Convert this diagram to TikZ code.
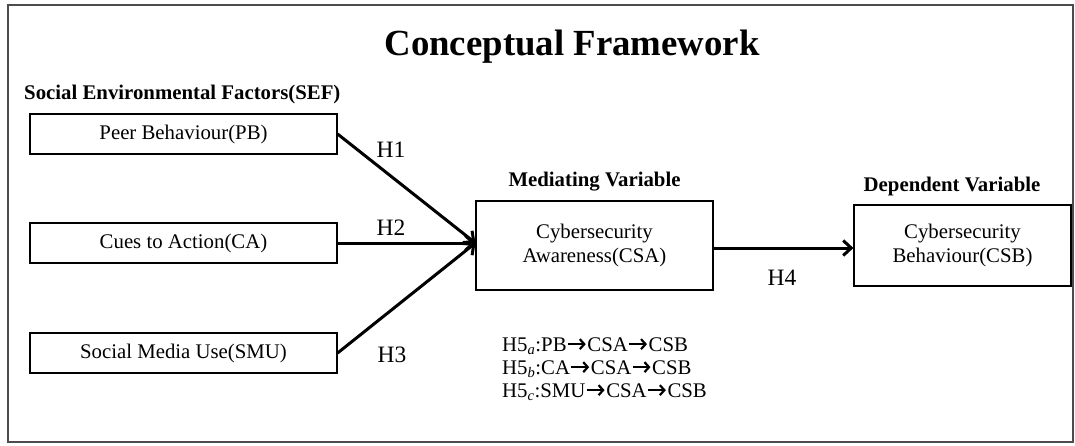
\documentclass[tikz,border=0pt]{standalone}
\usepackage{fontspec}
\setmainfont{Liberation Serif}
\usetikzlibrary{arrows.meta}
\newcommand{\myarr}{\tikz[baseline=0pt]{\useasboundingbox (0,0) rectangle (1em,0.6em);\draw[line width=2.2pt,-{Straight Barb[length=4.5pt,width=10pt]}] (0.06em,0.33em) -- (0.92em,0.33em);}}
\tikzset{
  box/.style={draw, line width=1.2pt, inner sep=0pt, align=center, font=\fontsize{20.8}{24}\selectfont},
  lbl/.style={inner sep=0pt, font=\fontsize{20.8}{23}\selectfont},
  hlbl/.style={inner sep=0pt, font=\fontsize{23.5}{26}\selectfont},
  hdr/.style={inner sep=0pt, font=\fontsize{20.8}{24}\selectfont\bfseries},
  conn/.style={line width=3pt, -{Straight Barb[length=8pt,width=15pt]}},
}
\begin{document}
\begin{tikzpicture}[x=1pt,y=-1pt]
\useasboundingbox (0,0) rectangle (1075,445);
\draw[line width=1.5pt, black!70] (8,5) rectangle (1073,442);
% title and headers
\node[inner sep=0pt, anchor=base, font=\fontsize{36.8}{40}\selectfont\bfseries] (title) at (572,55) {Conceptual Framework};
\node[hdr, anchor=base west] (sef) at (24,99) {Social Environmental Factors(SEF)};
\node[hdr, anchor=base] (mv) at (594.5,186) {Mediating Variable};
\node[hdr, anchor=base] (dv) at (952,191) {Dependent Variable};
% boxes
\node[box, minimum width=307pt, minimum height=40pt] (pb) at (183.5,134) {Peer Behaviour(PB)};
\node[box, minimum width=307pt, minimum height=40pt] (ca) at (183.5,243) {Cues to Action(CA)};
\node[box, minimum width=307pt, minimum height=40pt] (smu) at (183.5,353) {Social Media Use(SMU)};
\node[box, minimum width=237pt, minimum height=89pt] (csa) at (594.5,245.5) {Cybersecurity\\Awareness(CSA)};
\node[box, minimum width=217pt, minimum height=81pt] (csb) at (962.5,245.5) {Cybersecurity\\Behaviour(CSB)};
% connectors
\coordinate (m) at ([yshift=2.5pt]csa.west);
\draw[conn] (pb.east) -- (m);
\draw[conn] (ca.east) -- (m);
\draw[conn] (smu.east) -- (m);
\draw[conn] ([yshift=-2.5pt]csa.east) -- ([yshift=-2.5pt]csb.west);
% hypothesis labels
\node[hlbl, anchor=base] (h1) at (391,157) {H1};
\node[hlbl, anchor=base] (h2) at (391,235) {H2};
\node[hlbl, anchor=base] (h3) at (392,362) {H3};
\node[hlbl, anchor=base] (h4) at (782,285) {H4};
\node[lbl, anchor=base west] (h5a) at (502,351) {H5\textsubscript{\itshape a}:PB\myarr CSA\myarr CSB};
\node[lbl, anchor=base west] (h5b) at (502,374) {H5\textsubscript{\itshape b}:CA\myarr CSA\myarr CSB};
\node[lbl, anchor=base west] (h5c) at (502,397) {H5\textsubscript{\itshape c}:SMU\myarr CSA\myarr CSB};
\end{tikzpicture}
\end{document}
